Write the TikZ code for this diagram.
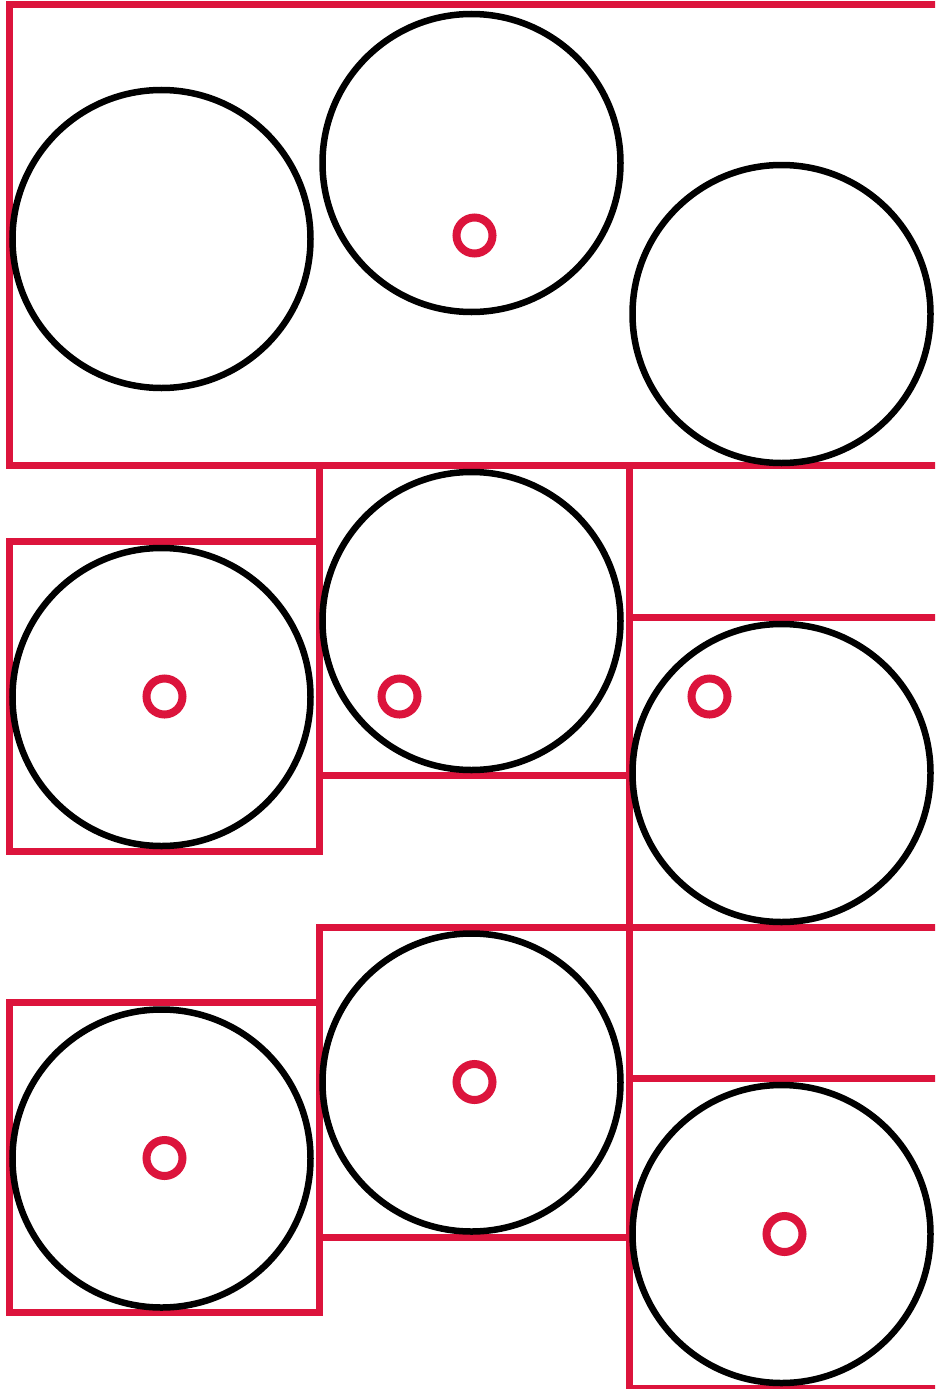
\documentclass[tikz,border=0pt]{standalone}
\definecolor{crim}{RGB}{220,20,60}
\tikzset{
  boxline/.style={draw=crim, line width=7pt},
  ball/.style={circle, draw=black, line width=6.5pt, minimum size=298pt, inner sep=0pt, outer sep=0pt},
  dot/.style={circle, draw=crim, line width=8pt, minimum size=36pt, inner sep=0pt, outer sep=0pt},
}
\begin{document}
\begin{tikzpicture}[x=1pt,y=-1pt]
\useasboundingbox (0,0) rectangle (935,1389);
\clip (0,0) rectangle (935,1389);
\fill[white] (0,0) rectangle (935,1389);
% red boxes
\draw[boxline] (9.5,4.5) rectangle (942,465.5);
\draw[boxline] (9.5,541.5) rectangle (319.5,851.5);
\draw[boxline] (319.5,465.5) rectangle (629.5,775.5);
\draw[boxline] (629.5,617) rectangle (942,927);
\draw[boxline] (9.5,1002.5) rectangle (319.5,1312.5);
\draw[boxline] (319.5,927) rectangle (629.5,1237);
\draw[boxline] (629.5,1078) rectangle (942,1388);
% black circles
\node[ball] (c11) at (161.5,239) {};
\node[ball] (c12) at (471.5,163) {};
\node[ball] (c13) at (781.5,314) {};
\node[ball] (c21) at (161.5,697) {};
\node[ball] (c22) at (471.5,621) {};
\node[ball] (c23) at (781.5,773) {};
\node[ball] (c31) at (161.5,1158.5) {};
\node[ball] (c32) at (471.5,1082.5) {};
\node[ball] (c33) at (781.5,1234) {};
% small red rings
\node[dot] (d1) at (474.5,235.5) {};
\node[dot] (d2) at (164.5,696.5) {};
\node[dot] (d3) at (399.5,696.5) {};
\node[dot] (d4) at (709.5,696.5) {};
\node[dot] (d5) at (164.5,1158) {};
\node[dot] (d6) at (474.5,1082) {};
\node[dot] (d7) at (784.5,1234) {};
\end{tikzpicture}
\end{document}
